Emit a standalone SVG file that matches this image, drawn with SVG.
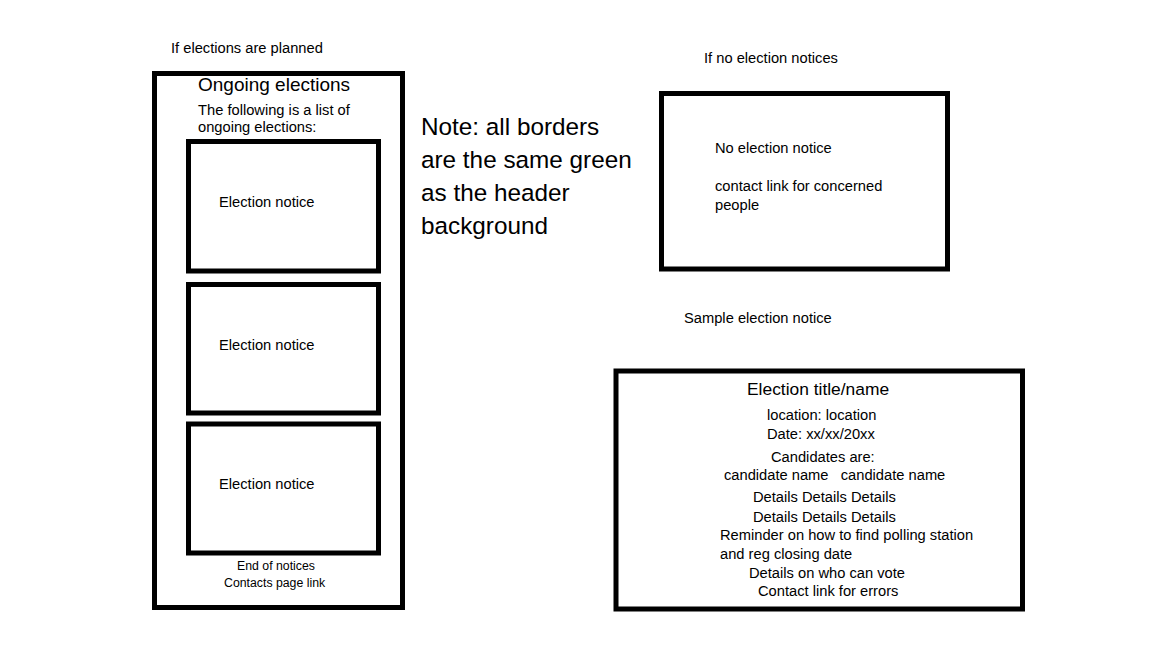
<svg xmlns="http://www.w3.org/2000/svg" width="1152" height="648" viewBox="0 0 1152 648">
<style>
.box{fill:none;stroke:#000;stroke-width:5}
text{font-family:"Liberation Sans",Arial,sans-serif;fill:#000}
.b{font-size:14.7px}
.t{font-size:19px}
.t2{font-size:17.4px}
.n{font-size:24.3px}
.s{font-size:12.3px}
</style>
<rect width="1152" height="648" fill="#fff"/>
<g id="label-planned"><text class="b" x="171" y="53">If elections are planned</text></g>
<g id="ongoing">
<rect class="box" x="154.5" y="73.5" width="248" height="534"/>
<text class="t" x="198" y="91">Ongoing elections</text>
<text class="b" x="198" y="115">The following is a list of</text>
<text class="b" x="198" y="132">ongoing elections:</text>
<text class="s" x="237" y="570">End of notices</text>
<text class="s" x="224" y="587">Contacts page link</text>
</g>
<g id="notice1"><rect class="box" x="188.5" y="141.5" width="190" height="129.5"/><text class="b" x="219" y="207">Election notice</text></g>
<g id="notice2"><rect class="box" x="188.5" y="284.5" width="190" height="128.5"/><text class="b" x="219" y="350">Election notice</text></g>
<g id="notice3"><rect class="box" x="188.5" y="424" width="190" height="129"/><text class="b" x="219" y="489">Election notice</text></g>
<g id="note">
<text class="n" x="421" y="135">Note: all borders</text>
<text class="n" x="421" y="168">are the same green</text>
<text class="n" x="421" y="201">as the header</text>
<text class="n" x="421" y="234">background</text>
</g>
<g id="label-none"><text class="b" x="704" y="63">If no election notices</text></g>
<g id="no-notice">
<rect class="box" x="661.5" y="93.5" width="286" height="175.5"/>
<text class="b" x="715" y="153">No election notice</text>
<text class="b" x="715" y="191">contact link for concerned</text>
<text class="b" x="715" y="210">people</text>
</g>
<g id="label-sample"><text class="b" x="684" y="323">Sample election notice</text></g>
<g id="sample">
<rect class="box" x="616" y="371" width="406.5" height="238"/>
<text class="t2" x="747" y="395">Election title/name</text>
<text class="b" x="767" y="420">location: location</text>
<text class="b" x="767" y="439">Date: xx/xx/20xx</text>
<text class="b" x="771" y="462">Candidates are:</text>
<text class="b" x="724" y="480" xml:space="preserve">candidate name   candidate name</text>
<text class="b" x="753" y="502">Details Details Details</text>
<text class="b" x="753" y="521.5">Details Details Details</text>
<text class="b" x="720" y="540">Reminder on how to find polling station</text>
<text class="b" x="720" y="559">and reg closing date</text>
<text class="b" x="749" y="578">Details on who can vote</text>
<text class="b" x="758" y="596">Contact link for errors</text>
</g>
<g id="connectors"/>
</svg>
